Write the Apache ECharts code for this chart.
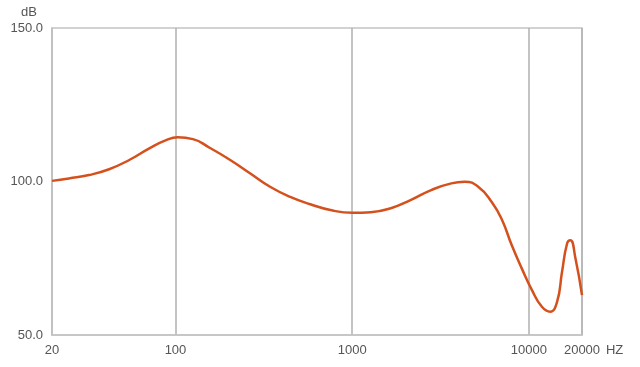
<!DOCTYPE html>
<html>
<head>
<meta charset="utf-8">
<script src="https://cdn.jsdelivr.net/npm/echarts@6/dist/echarts.min.js"></script>
<style>html,body{margin:0;padding:0;background:#fff}#c{width:640px;height:367px}</style>
</head>
<body>
<div id="c"></div>
<script>
// Frequency (Hz) and level (dB)
const freqs = [20, 24.9, 32.4, 42.1, 54.7, 71.1, 88.5, 103, 125.5, 156, 203, 264, 343, 446, 580, 754, 1003, 1274, 1656, 2154, 2800, 3641, 4336, 5166, 6152, 7015, 7998, 9120, 10400, 11860, 13220, 14450, 15420, 16480, 17190, 18360, 20000];
const levels = [100.2, 101.0, 102.1, 104.0, 107.0, 110.8, 113.5, 114.4, 113.8, 111.0, 107.1, 102.7, 98.3, 95.0, 92.6, 90.7, 89.8, 90.0, 91.3, 94.0, 97.2, 99.4, 99.9, 98.3, 93.4, 87.8, 79.3, 71.7, 64.7, 59.2, 57.6, 60.8, 70.6, 79.9, 80.9, 75.0, 63.0];
const yTicks = [50, 100, 150];

const data = freqs.map((f, i) => [f, levels[i]]);
const chart = echarts.init(document.getElementById('c'), null, {renderer: 'canvas'});
chart.setOption({
  animation: false,
  backgroundColor: '#fff',
  grid: {left: 52, right: 58, top: 28, bottom: 32, show: true, borderColor: '#c4c4c4', borderWidth: 1.5},
  xAxis: {
    type: 'log', logBase: 10, min: 20, max: 20000,
    name: 'HZ', nameLocation: 'end', nameGap: 20,
    nameTextStyle: {color: '#555', fontSize: 13, verticalAlign: 'top', padding: [9, 0, 0, 0]},
    axisLine: {show: true, lineStyle: {color: '#c4c4c4', width: 1.5}},
    axisTick: {show: false},
    axisLabel: {color: '#555', fontSize: 13, margin: 9, formatter: v => String(Math.round(v))},
    splitLine: {show: true, lineStyle: {color: '#b0b0b0', width: 1.5}},
    minorSplitLine: {show: false}
  },
  yAxis: {
    type: 'value', min: yTicks[0], max: yTicks[yTicks.length - 1], interval: 50,
    name: 'dB', nameLocation: 'end', nameGap: 9,
    nameTextStyle: {color: '#555', fontSize: 13, align: 'right', padding: [0, 15, 0, 0]},
    axisLine: {show: true, lineStyle: {color: '#c4c4c4', width: 1.5}},
    axisTick: {show: false},
    axisLabel: {color: '#555', fontSize: 13, margin: 9, formatter: v => v.toFixed(1)},
    splitLine: {show: false}
  },
  series: [{
    type: 'line', data: data, smooth: 0.5, showSymbol: false,
    lineStyle: {color: '#d4511e', width: 2.5}
  }]
});
</script>
</body>
</html>
